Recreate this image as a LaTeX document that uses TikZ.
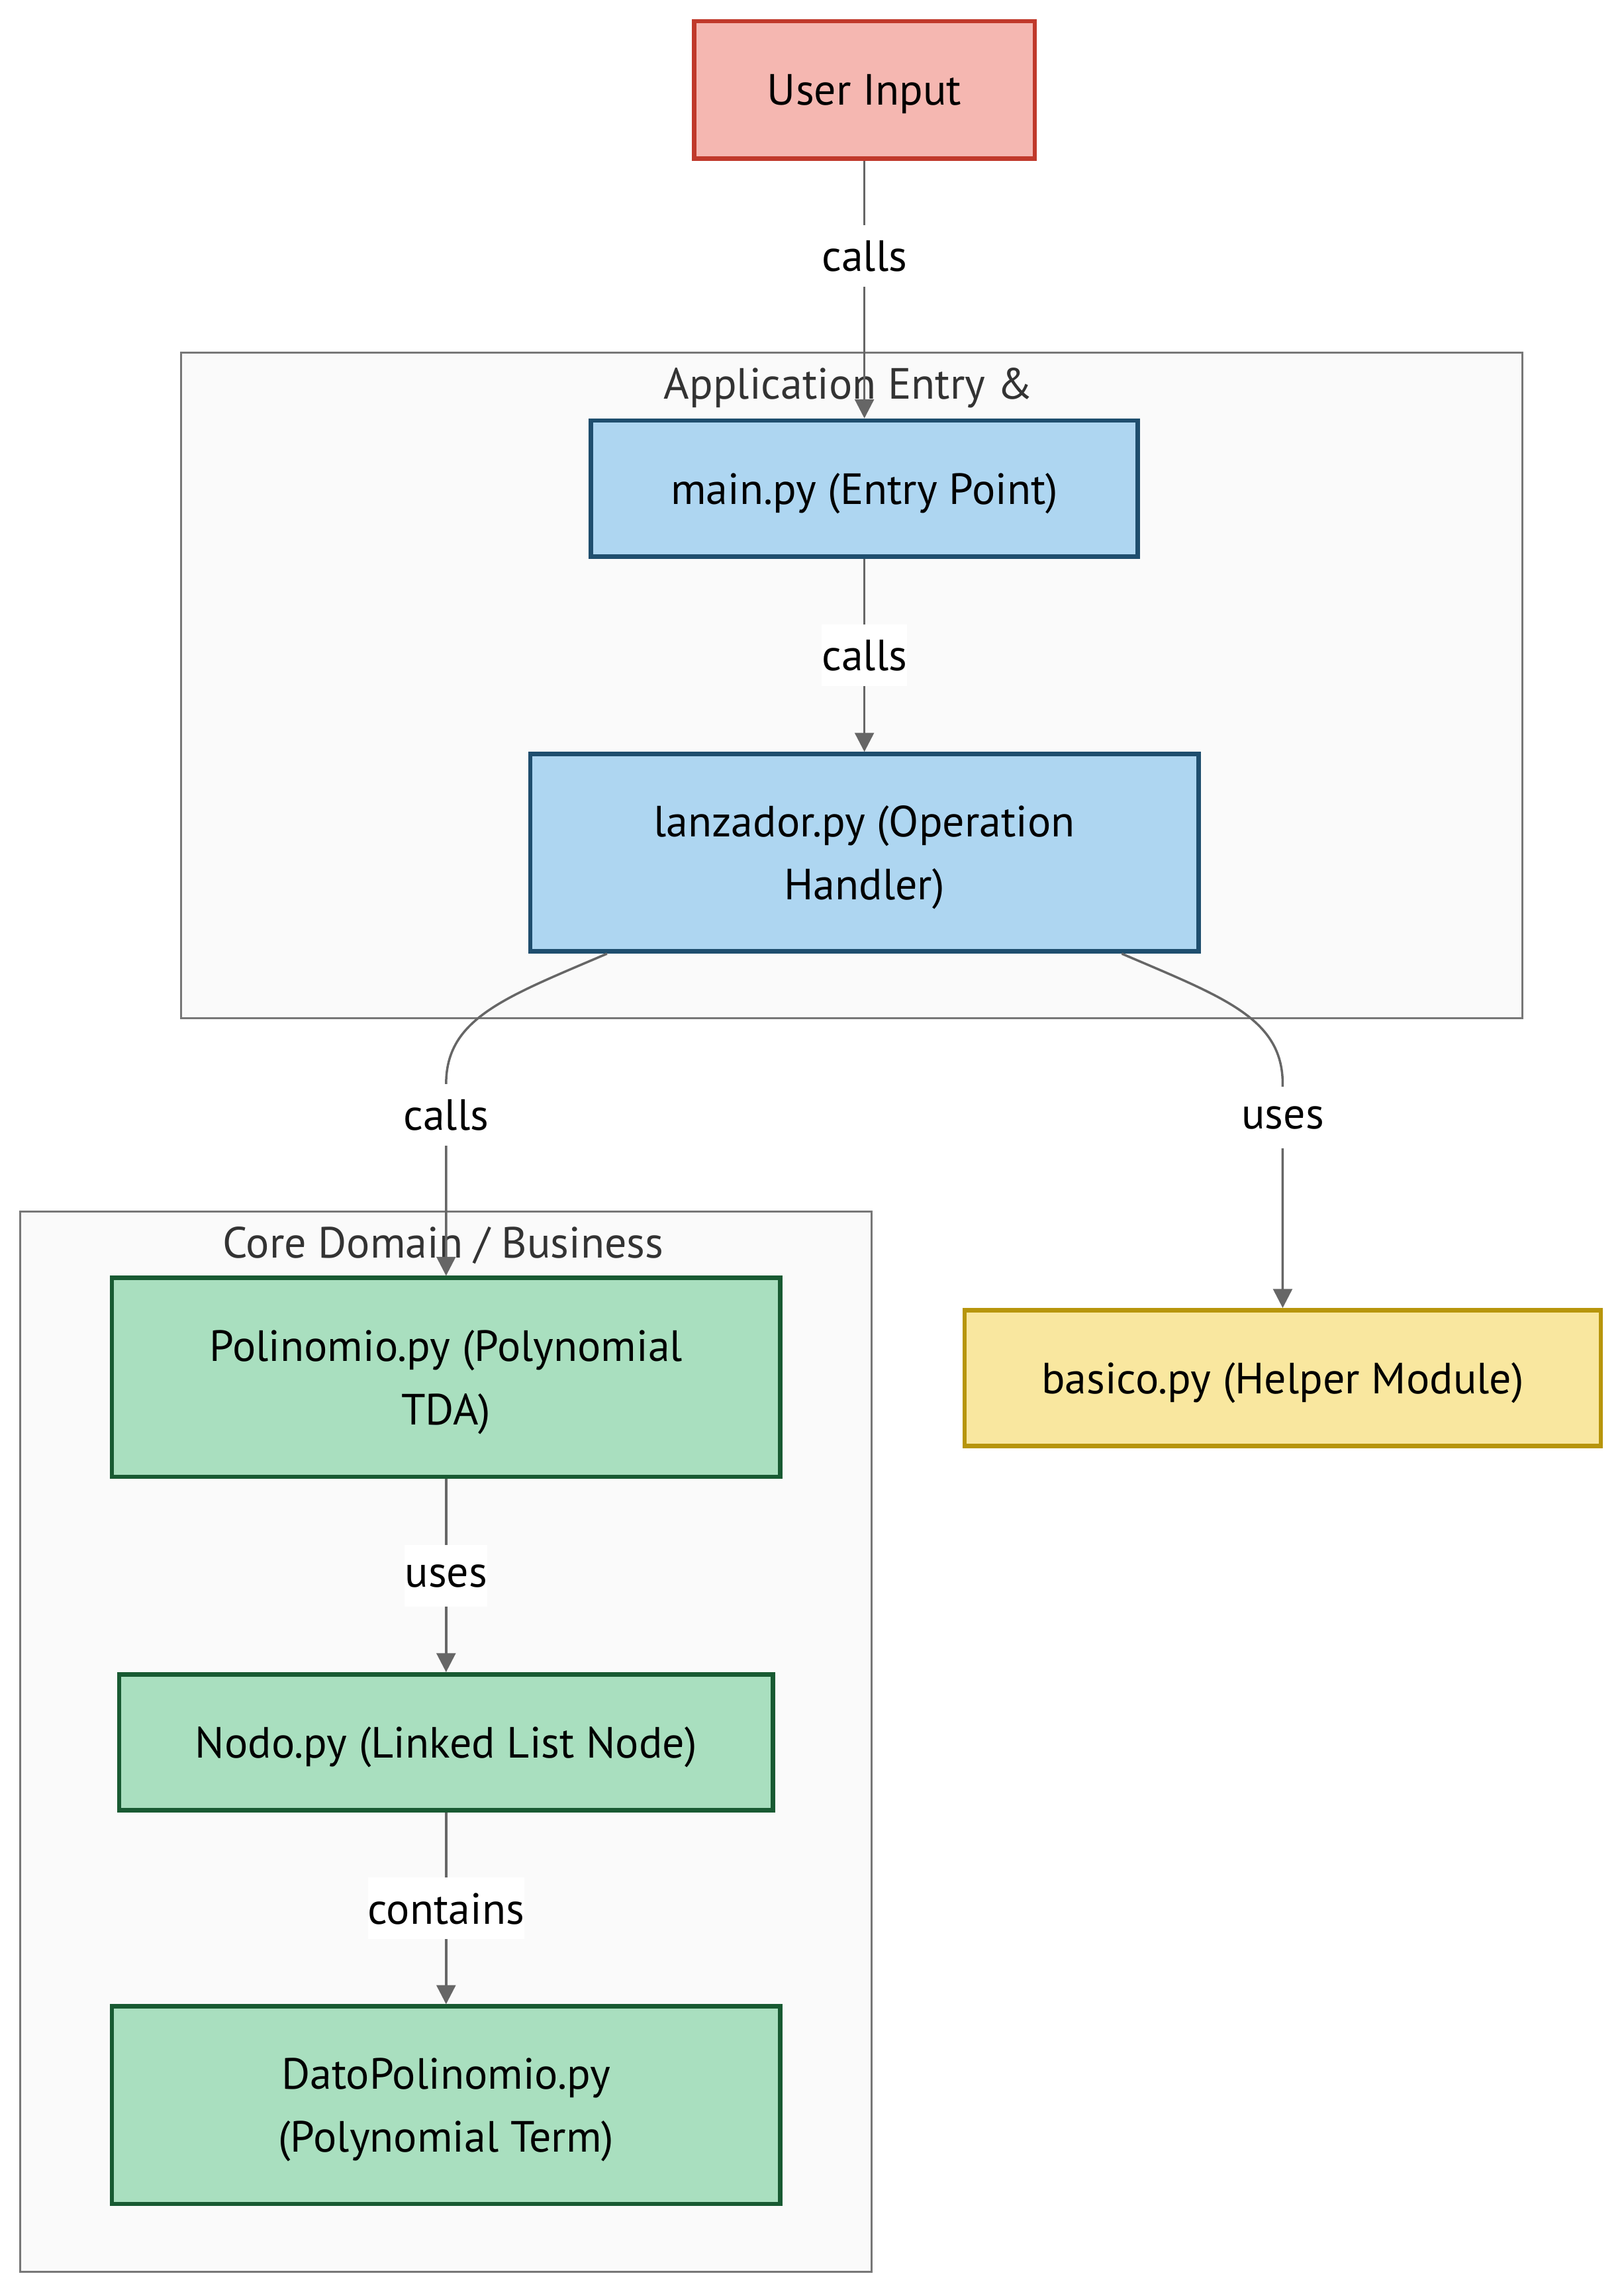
\documentclass[tikz,border=0pt]{standalone}
\usepackage{fontspec}
\setmainfont{PT Sans}
\usepackage{xcolor}
\usepackage{tikz}
\usetikzlibrary{arrows.meta,positioning,calc}
\definecolor{usrfill}{HTML}{F5B7B1}
\definecolor{usrline}{HTML}{C0392B}
\definecolor{appfill}{HTML}{AED6F1}
\definecolor{appline}{HTML}{1F4E6E}
\definecolor{corefill}{HTML}{A9DFBF}
\definecolor{coreline}{HTML}{185A32}
\definecolor{helpfill}{HTML}{F9E79F}
\definecolor{helpline}{HTML}{B7950B}
\definecolor{edgegray}{HTML}{666666}
\definecolor{grpfill}{HTML}{FAFAFA}
\definecolor{grpline}{HTML}{777777}
\definecolor{grptext}{HTML}{333333}
\tikzset{
  >={Triangle[length=2.6mm,width=2.6mm]},
  txt/.style={font=\fontsize{17}{24.5}\selectfont, text depth=0pt},
  box/.style={draw, txt, line width=1.7pt, align=center, inner sep=0pt},
  usr/.style={box, fill=usrfill, draw=usrline, minimum width=4.66cm, minimum height=1.88cm},
  app/.style={box, fill=appfill, draw=appline, minimum width=7.48cm, minimum height=1.86cm},
  core/.style={box, fill=corefill, draw=coreline, minimum width=9.14cm, minimum height=2.70cm},
  helper/.style={box, fill=helpfill, draw=helpline, minimum width=8.70cm, minimum height=1.86cm},
  grp/.style={draw=grpline, fill=grpfill, line width=0.8pt},
  grptitle/.style={txt, text=grptext, inner sep=0pt},
  edge/.style={->, draw=edgegray, line width=0.9pt},
  lbl/.style={txt, fill=white, inner sep=0pt, minimum height=0.84cm},
}
\begin{document}
\begin{tikzpicture}[x=0.02cm, y=-0.02cm]
  \useasboundingbox (0,0) rectangle (1110,1568);
  % subgraphs
  \draw[grp] (124,241) rectangle (1041,696);
  \node[grptitle] (apptitle) at (580,262) {Application Entry \&};
  \draw[grp] (14,828) rectangle (596,1553);
  \node[grptitle] (coretitle) at (303,849) {Core Domain / Business};

  \node[usr] (user) at (591,61.5) {User Input};
  \node[app, below=3.52cm of user] (main) {main.py (Entry Point)};
  \node[app, minimum width=9.14cm, minimum height=2.70cm, below=2.64cm of main] (lanz) {lanzador.py (Operation\\Handler)};

  \node[core, minimum height=2.72cm] (poli) at (305,941.5) {Polinomio.py (Polynomial\\TDA)};
  \node[core, minimum width=8.94cm, minimum height=1.86cm, below=2.64cm of poli] (nodo) {Nodo.py (Linked List Node)};
  \node[core, below=2.62cm of nodo] (dato) {DatoPolinomio.py\\(Polynomial Term)};

  \node[helper] (basico) at (877,942) {basico.py (Helper Module)};

  \draw[edge] (user) -- node[lbl, pos=0.37] {calls} (main);
  \draw[edge] (main) -- node[lbl] {calls} (lanz);
  \draw[edge] ([xshift=-3.52cm]lanz.south) .. controls +(-70,30) and +(0,-45) .. ($(poli.north)+(0,-131)$)
    -- node[lbl, pos=0.16] {calls} (poli.north);
  \draw[edge] ([xshift=3.52cm]lanz.south) .. controls +(70,30) and +(0,-45) .. ($(basico.north)+(0,-153)$)
    -- node[lbl, pos=0.15] {uses} (basico.north);
  \draw[edge] (poli) -- node[lbl] {uses} (nodo);
  \draw[edge] (nodo) -- node[lbl] {contains} (dato);
\end{tikzpicture}
\end{document}
